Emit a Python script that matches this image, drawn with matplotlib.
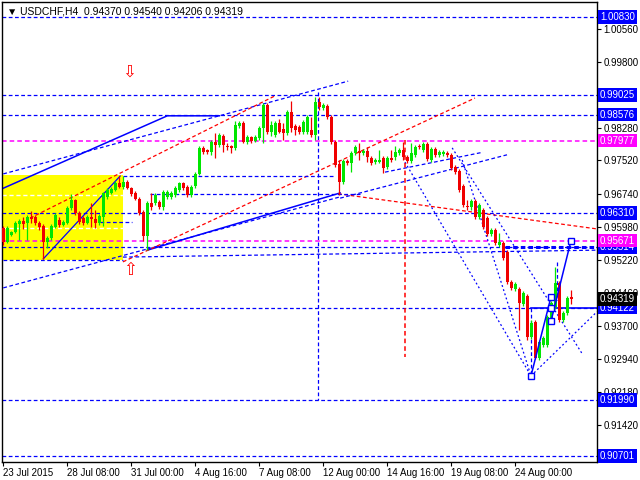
import numpy as np
import matplotlib.pyplot as plt
from matplotlib.patches import Rectangle
from matplotlib.transforms import blended_transform_factory

plt.rcParams['font.family'] = ['Liberation Sans', 'DejaVu Sans']

# USDCHF H4 candles
opens = np.array([
    .9596, .9564, .9580, .9587, .9605, .9612, .9608, .9622, .9622, .9608,
    .9601, .9564, .9573, .9598, .9615, .9603, .9608, .9642, .9661, .9631,
    .9619, .9608, .9622, .9617, .9608, .9622, .9668, .9677, .9684, .9700,
    .9691, .9702, .9688, .9677, .9663, .9633, .9578, .9654, .9654, .9656,
    .9645, .9668, .9668, .9672, .9684, .9700, .9691, .9672, .9693, .9721,
    .9781, .9776, .9772, .9795, .9788, .9808, .9785, .9785, .9781, .9831,
    .9838, .9795, .9806, .9797, .9804, .9827, .9880, .9818, .9811, .9838,
    .9825, .9815, .9864, .9831, .9829, .9818, .9818, .9822, .9811, .9887,
    .9873, .9878, .9852, .9795, .9744, .9702, .9751, .9746, .9769, .9774,
    .9769, .9774, .9758, .9748, .9748, .9758, .9737, .9758, .9760, .9769,
    .9776, .9760, .9751, .9765, .9785, .9776, .9790, .9753, .9778, .9765,
    .9767, .9769, .9765, .9737, .9728, .9693, .9647, .9645, .9658, .9622,
    .9638, .9619, .9582, .9592, .9557, .9562, .9541, .9472, .9455, .9455,
    .9421, .9439, .9345, .9379, .9296, .9326, .9326, .9384, .9414, .9469,
    .9384, .9400, .94370])
highs = np.array([
    .9601, .9601, .9589, .9612, .9617, .9622, .9626, .9635, .9626, .9612,
    .9605, .9578, .9605, .9631, .9622, .9615, .9647, .9675, .9663, .9635,
    .9624, .9626, .9654, .9638, .9628, .9679, .9688, .9691, .9705, .9716,
    .9716, .9707, .9691, .9682, .9668, .9638, .9658, .9677, .9677, .9661,
    .9684, .9684, .9682, .9693, .9702, .9702, .9695, .9695, .9725, .9785,
    .9785, .9778, .9799, .9815, .9815, .9813, .9792, .9788, .9843, .9843,
    .9843, .9811, .9808, .9811, .9831, .9885, .9885, .9843, .9843, .9848,
    .9838, .9868, .9889, .9836, .9834, .9845, .9857, .9852, .9898, .9898,
    .9885, .9882, .9857, .9799, .9753, .9755, .9755, .9774, .9788, .9792,
    .9778, .9783, .9762, .9758, .9776, .9762, .9762, .9776, .9785, .9781,
    .9795, .9765, .9792, .9788, .9790, .9795, .9795, .9783, .9783, .9776,
    .9776, .9774, .9769, .9742, .9732, .9698, .9661, .9663, .9663, .9654,
    .9642, .9624, .9596, .9596, .9585, .9566, .9545, .9476, .9472, .9460,
    .9451, .9444, .9384, .9384, .9338, .9347, .9395, .9428, .9506, .9474,
    .9405, .9439, .94540])
lows = np.array([
    .9557, .9562, .9578, .9585, .9568, .9594, .9568, .9608, .9603, .9592,
    .9525, .9550, .9568, .9596, .9598, .9601, .9605, .9638, .9626, .9605,
    .9603, .9605, .9598, .9596, .9603, .9601, .9663, .9675, .9682, .9688,
    .9686, .9686, .9670, .9661, .9626, .9566, .9545, .9638, .9649, .9640,
    .9638, .9663, .9663, .9668, .9679, .9684, .9668, .9668, .9688, .9718,
    .9767, .9767, .9765, .9758, .9783, .9772, .9776, .9769, .9776, .9827,
    .9792, .9790, .9792, .9795, .9799, .9792, .9813, .9808, .9806, .9815,
    .9799, .9811, .9818, .9811, .9813, .9813, .9813, .9806, .9799, .9868,
    .9868, .9848, .9790, .9737, .9672, .9698, .9742, .9725, .9765, .9753,
    .9765, .9748, .9742, .9744, .9746, .9723, .9732, .9748, .9753, .9765,
    .9753, .9746, .9746, .9760, .9778, .9772, .9751, .9748, .9760, .9760,
    .9762, .9760, .9730, .9721, .9679, .9645, .9638, .9638, .9617, .9617,
    .9594, .9578, .9578, .9557, .9552, .9522, .9467, .9453, .9451, .9361,
    .9416, .9338, .9340, .9294, .9292, .9322, .9322, .9379, .9409, .9379,
    .9379, .9395, .94206])
closes = np.array([
    .9564, .9596, .9587, .9608, .9612, .9605, .9622, .9617, .9608, .9598,
    .9564, .9573, .9601, .9626, .9603, .9610, .9642, .9661, .9631, .9610,
    .9608, .9622, .9617, .9608, .9624, .9677, .9684, .9686, .9700, .9691,
    .9702, .9688, .9675, .9663, .9631, .9578, .9654, .9645, .9672, .9645,
    .9679, .9679, .9677, .9688, .9700, .9688, .9672, .9691, .9721, .9781,
    .9772, .9772, .9795, .9788, .9811, .9788, .9783, .9781, .9834, .9838,
    .9795, .9806, .9797, .9806, .9827, .9880, .9818, .9834, .9838, .9818,
    .9815, .9864, .9827, .9822, .9818, .9841, .9852, .9811, .9887, .9875,
    .9880, .9852, .9795, .9742, .9702, .9751, .9746, .9769, .9783, .9769,
    .9774, .9760, .9746, .9753, .9753, .9735, .9758, .9753, .9772, .9776,
    .9760, .9751, .9769, .9783, .9783, .9790, .9755, .9778, .9765, .9772,
    .9772, .9765, .9735, .9725, .9684, .9649, .9645, .9658, .9622, .9649,
    .9598, .9582, .9592, .9562, .9564, .9527, .9472, .9458, .9467, .9423,
    .9446, .9345, .9377, .9296, .9333, .9342, .9391, .9423, .9469, .9384,
    .9400, .9435, .94319])

time_ticks = [0, 16, 32, 48, 64, 80, 96, 112, 128]
time_labels = ["23 Jul 2015", "28 Jul 08:00", "31 Jul 00:00", "4 Aug 16:00", "7 Aug 08:00",
               "12 Aug 00:00", "14 Aug 16:00", "19 Aug 08:00", "24 Aug 00:00"]
price_ticks = [1.00560, 0.99800, 0.99040, 0.98280, 0.97520, 0.96740, 0.95980,
               0.95220, 0.94460, 0.93700, 0.92940, 0.92180, 0.91420]
hidden_ticks = [0.99040]  # sits under the 0.99025 box

blue_levels = [1.00830, 0.99025, 0.98576, 0.96310, 0.95514, 0.94122, 0.91990, 0.90701]
magenta_levels = [0.97977, 0.95671]
# price boxes on the scale, in drawing order
box_prices = [1.00830, 0.99025, 0.98576, 0.97977, 0.96310, 0.95514, 0.95671,
              0.94122, 0.94319, 0.91990, 0.90701]
box_colors = ['#0000ff', '#0000ff', '#0000ff', '#ff00ff', '#0000ff', '#0000ff', '#ff00ff',
              '#0000ff', '#000000', '#0000ff', '#0000ff']

# trend lines as (bar, price) anchors
solid_fan = [(0, 0.9688), (41, 0.9855), (54, 0.9855)]
upper_chan = [(0, 0.9721), (86.2, 0.9935)]
lower_chan = [(0, 0.9458), (84.2, 0.9668)]
low_to_top = [(36, 0.9545), (84.2, 0.9677)]
zigzag = [(10, 0.9525), (29.2, 0.9716)]
red_up1 = [(29.9, 0.9518), (117.9, 0.9896)]
red_up2 = [(6.7, 0.9619), (67.9, 0.9901)]
red_down = [(83.7, 0.9675), (148.4, 0.9594)]
blue_side1 = [(84.2, 0.9665), (125.9, 0.9765)]
blue_side2 = [(95.4, 0.9725), (119.9, 0.9771)]
fall1 = [(100.4, 0.9748), (131.9, 0.9255)]
fall2 = [(112.2, 0.9781), (144.9, 0.9303)]
fall3 = [(114.7, 0.9753), (131.9, 0.9255)]
rise_dash = [(131.9, 0.9255), (148.4, 0.9403)]
wave1 = [(131.9, 0.9255), (136.9, 0.9437)]
wave2 = [(136.9, 0.9381), (141.9, 0.9567)]
wave_points_x = [131.9, 136.9, 136.9, 136.9, 141.9]
wave_points_y = [0.9255, 0.9437, 0.94122, 0.9381, 0.9567]
flat_low = [(29.9, 0.9529), (148.4, 0.9545)]
vert_blue = [(78.7, 0.9910), (78.7, 0.9199)]
vert_red = [(100.4, 0.9799), (100.4, 0.9299)]
short_h = [
    [(29.9, 0.9716), (82.9, 0.9716)],
    [(36.7, 0.9675), (89.2, 0.9675)],
    [(24.2, 0.9610), (32.2, 0.9610)],
    [(0, 0.9523), (29.9, 0.9523)],
    [(131.9, 0.94122), (131.9, 0.9255)],
    [(138.4, 0.9518), (138.4, 0.9430)],
]
yellow_box = (-0.33, 29.9, 0.9523, 0.9718)
yellow_marks = [0.9672, 0.9596]

BLUE, RED, MAG = '#0000ff', '#ff0000', '#ff00ff'
DASH = (0, (3, 2))

fig = plt.figure(figsize=(6.4, 4.8), dpi=100)
ax = fig.add_axes([2 / 640, 18 / 480, 595 / 640, 460 / 480])
ax.set_xlim(-0.33, 148.4)
ax.set_ylim(0.90562, 1.01176)


def draw(pts, color, ls=DASH, lw=0.9, z=2):
    xs, ys = zip(*pts)
    ax.plot(xs, ys, color=color, linestyle=ls, lw=lw, zorder=z)


# yellow zone
x0, x1, p0, p1 = yellow_box
ax.add_patch(Rectangle((x0, p0), x1 - x0, p1 - p0, fc='#ffff00', ec='none', zorder=0))
for p in yellow_marks:
    ax.plot([x0, x1], [p, p], color='white', linestyle=DASH, lw=1, zorder=1)

# levels
for p in blue_levels:
    ax.axhline(p, color=BLUE, linestyle=DASH, lw=0.9, zorder=1)
for p in magenta_levels:
    ax.axhline(p, color=MAG, linestyle=DASH, lw=1.1, zorder=1)
ax.plot([125.4, 148.4], [0.95514, 0.95514], color=BLUE, linestyle=(0, (1.5, 1)), lw=2.2, zorder=2)
ax.plot([131.9, 148.4], [0.94122, 0.94122], color=BLUE, lw=1.2, zorder=2)

# trend lines
draw(solid_fan, BLUE, ls='-', lw=1.1)
draw(upper_chan, BLUE)
draw(lower_chan, BLUE)
draw(low_to_top, BLUE, ls='-', lw=1.1)
draw(zigzag, BLUE, ls='-', lw=0.9)
draw(red_up1, RED)
draw(red_up2, RED)
draw(red_down, RED)
draw(blue_side1, BLUE)
draw(blue_side2, BLUE)
for seg in (fall1, fall2, fall3, rise_dash):
    draw(seg, BLUE, ls=(0, (1.5, 2)), lw=0.9)
draw(flat_low, BLUE)
draw(vert_blue, BLUE)
draw(vert_red, RED, lw=1.1)
for seg in short_h:
    draw(seg, BLUE)
draw(wave1, BLUE, ls='-', lw=1.1, z=4)
draw(wave2, BLUE, ls='-', lw=1.1, z=4)
ax.plot(wave_points_x, wave_points_y, 's', ms=4.5, mfc='white', mec=BLUE, mew=1, zorder=5)

# candles
x = np.arange(len(closes))
up = closes >= opens
colors = np.where(up, '#00e600', '#f00000')
ax.vlines(x, lows, highs, colors=colors, lw=0.9, zorder=3)
ax.bar(x, np.maximum(np.abs(closes - opens), 0.00012), bottom=np.minimum(opens, closes),
       width=0.8, color=colors, linewidth=0, zorder=3)

# arrows
ax.text(31.4, 0.9956, '\u21e9', color=RED, fontsize=12, ha='center', va='center',
        family='DejaVu Sans', zorder=5)
ax.text(31.7, 0.9499, '\u21e7', color=RED, fontsize=12, ha='center', va='center',
        family='DejaVu Sans', zorder=5)

# axes styling
for s in ax.spines.values():
    s.set_color('black')
    s.set_linewidth(1)
ax.yaxis.tick_right()
ax.set_yticks(price_ticks)
ax.set_yticklabels(["" if p in hidden_ticks else f"{p:.5f}" for p in price_ticks])
ax.set_xticks(time_ticks)
ax.set_xticklabels(time_labels, ha='left')
ax.tick_params(axis='both', direction='out', length=3, width=0.8, labelsize=7, pad=1.5)

trans = blended_transform_factory(ax.transAxes, ax.transData)
for p, c in zip(box_prices, box_colors):
    ax.text(1.0 + 3 / 595, p, f"{p:.5f}", transform=trans, color='white', fontsize=7,
            ha='left', va='center', clip_on=False, zorder=6,
            bbox=dict(boxstyle='square,pad=0.18', fc=c, ec='none'))

ax.text(0.008, 1 - 10 / 460, '\u25bc USDCHF,H4  0.94370 0.94540 0.94206 0.94319',
        transform=ax.transAxes, fontsize=7.5, color='black', va='center', ha='left', zorder=6)

fig.savefig('out.png', dpi=100)
